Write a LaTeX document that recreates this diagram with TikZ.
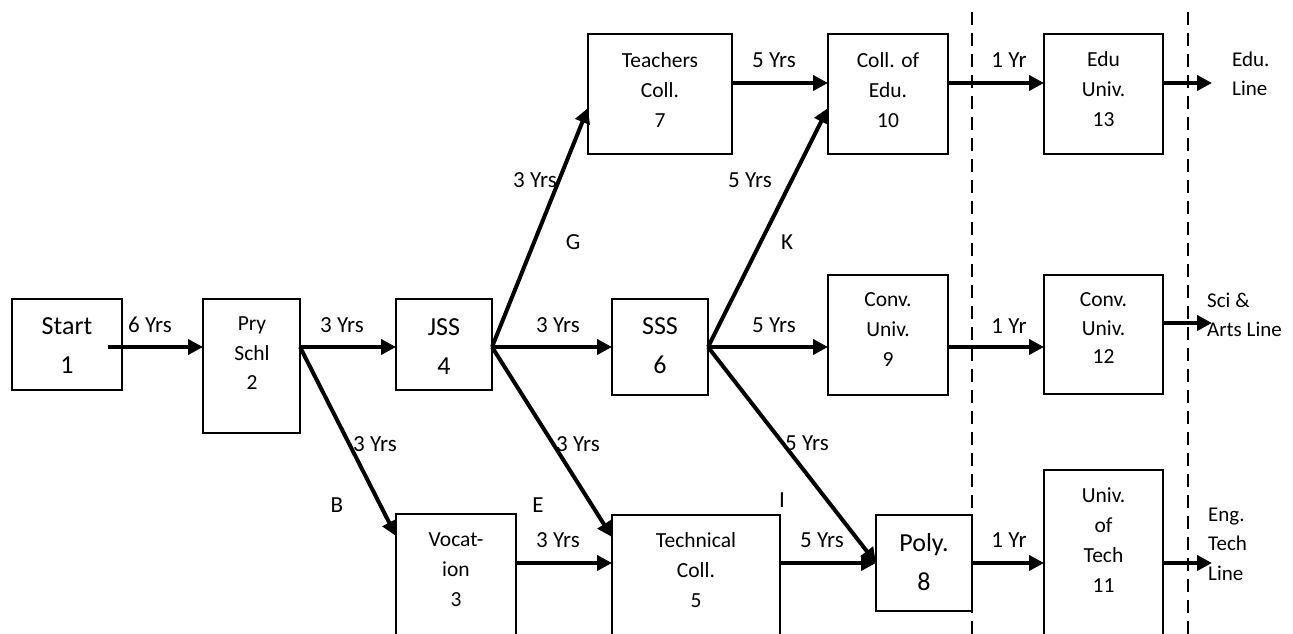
\documentclass[tikz,border=0pt]{standalone}
\usepackage{fontspec}
\setmainfont{Carlito}
\usetikzlibrary{arrows.meta,calc}
\begin{document}
\begin{tikzpicture}[x=1pt,y=-1pt,
  box/.style={draw,line width=2pt,inner sep=0pt,outer sep=0pt},
  sm/.style={font=\fontsize{21.5}{30}\selectfont,align=center,inner sep=0pt},
  lbl/.style={font=\fontsize{23}{30}\selectfont,align=center,inner sep=0pt},
  bg/.style={font=\fontsize{26}{39}\selectfont,align=center,inner sep=0pt},
  side/.style={font=\fontsize{21}{29.5}\selectfont,align=left,inner sep=0pt,anchor=west},
  arr/.style={line width=4pt,-{Triangle[length=15pt,width=15pt]}},
  divider/.style={line width=2.5pt,dash pattern=on 13pt off 8pt}]
\clip (0,0) rectangle (1293,634);
\fill[white] (0,0) rectangle (1293,634);
% helper coordinates
\coordinate (y83) at (0,83);
\coordinate (y108) at (0,108);
\coordinate (y323) at (0,323);
\coordinate (y347) at (0,347);
\coordinate (y536) at (0,536);
\coordinate (y537) at (0,537);
\coordinate (y563) at (0,563);
% boxes
\node[box,minimum width=110pt,minimum height=91pt] (start) at (67,344.5) {};
\node[box,minimum width=97pt,minimum height=134pt] (pry) at (251.5,366) {};
\node[box,minimum width=96pt,minimum height=91pt] (jss) at (444,344.5) {};
\node[box,minimum width=96pt,minimum height=96pt] (sss) at (660,347) {};
\node[box,minimum width=144pt,minimum height=120pt] (teach) at (660,94) {};
\node[box,minimum width=120pt,minimum height=120pt] (colledu) at (888,94) {};
\node[box,minimum width=120pt,minimum height=120pt] (conv9) at (888,335) {};
\node[box,minimum width=119pt,minimum height=120pt] (edu13) at (1103.5,94) {};
\node[box,minimum width=119pt,minimum height=119pt] (conv12) at (1103.5,334.5) {};
\node[box,minimum width=120pt,minimum height=166pt] (voc) at (456,597) {};
\node[box,minimum width=168pt,minimum height=165pt] (tech) at (696,597.5) {};
\node[box,minimum width=96pt,minimum height=96pt] (poly) at (924,563) {};
\node[box,minimum width=119pt,minimum height=210pt] (univtech) at (1103.5,575) {};
% box texts
\node[bg] (startT) at (67,346) {Start\\1};
\node[sm,font=\fontsize{21.5}{29.5}\selectfont] (pryT) at (252,353.5) {Pry\\Schl\\2};
\node[bg] (jssT) at (444,346.5) {JSS\\4};
\node[bg] (sssT) at (660,346) {SSS\\6};
\node[sm] (teachT) at (660,90) {Teachers\\Coll.\\7};
\node[sm] (colleduT) at (888,90) {Coll. of\\Edu.\\10};
\node[sm] (edu13T) at (1103.5,89.5) {Edu\\Univ.\\13};
\node[sm] (conv9T) at (888,330) {Conv.\\Univ.\\9};
\node[sm,font=\fontsize{21.5}{28.5}\selectfont] (conv12T) at (1103.5,328.5) {Conv.\\Univ.\\12};
\node[sm] (vocT) at (456,570) {Vocat-\\ion\\3};
\node[sm] (techT) at (696,570) {Technical\\Coll.\\5};
\node[bg] (polyT) at (924,562) {Poly.\\8};
\node[sm] (univtechT) at (1103.5,540) {Univ.\\of\\Tech\\11};
% dividers
\coordinate (d1a) at (972,12);
\coordinate (d1b) at (972,640);
\coordinate (d2a) at (1188,12);
\coordinate (d2b) at (1188,640);
\draw[divider] (d1a) -- (d1b);
\draw[divider] (d2a) -- (d2b);
% free ends
\coordinate (eduEnd) at (1212,83);
\coordinate (sciEnd) at (1212,323);
\coordinate (engEnd) at (1212,563);
% horizontal arrows
\draw[arr] ($(start.east |- y347)+(-14,0)$) -- (pry.west |- y347);
\draw[arr] (pry.east |- y347) -- (jss.west |- y347);
\draw[arr] (jss.east |- y347) -- (sss.west |- y347);
\draw[arr] (sss.east |- y347) -- (conv9.west |- y347);
\draw[arr] (conv9.east |- y347) -- (conv12.west |- y347);
\draw[arr] (conv12.east |- y323) -- (sciEnd);
\draw[arr] (teach.east |- y83) -- (colledu.west |- y83);
\draw[arr] (colledu.east |- y83) -- (edu13.west |- y83);
\draw[arr] (edu13.east |- y83) -- (eduEnd);
\draw[arr] (voc.east |- y563) -- (tech.west |- y563);
\draw[arr] (tech.east |- y563) -- (poly.west |- y563);
\draw[arr] (poly.east |- y563) -- (univtech.west |- y563);
\draw[arr] (univtech.east |- y563) -- (engEnd);
% diagonal arrows
\draw[arr] (pry.east |- y347) -- (voc.west |- y536);
\draw[arr] (jss.east |- y347) -- (tech.west |- y537);
\draw[arr] (sss.east |- y347) -- (poly.west |- y563);
\draw[arr] (jss.east |- y347) -- (teach.west |- y108);
\draw[arr] (sss.east |- y347) -- (colledu.west |- y108);
% edge labels
\node[lbl] (l1) at (150,325) {6 Yrs};
\node[lbl] (l2) at (342,325) {3 Yrs};
\node[lbl] (l3) at (558,325) {3 Yrs};
\node[lbl] (l4) at (774,325) {5 Yrs};
\node[lbl] (l5) at (1009,326) {1 Yr};
\node[lbl] (l6) at (774,60) {5 Yrs};
\node[lbl] (l7) at (1009,60) {1 Yr};
\node[lbl] (l8) at (535,180) {3 Yrs};
\node[lbl] (lG) at (573,242) {G};
\node[lbl] (l9) at (750,180) {5 Yrs};
\node[lbl] (lK) at (787,242) {K};
\node[lbl] (l10) at (375,444) {3 Yrs};
\node[lbl] (lB) at (337,505) {B};
\node[lbl] (l11) at (578,444) {3 Yrs};
\node[lbl] (lE) at (538,505) {E};
\node[lbl] (l12) at (807,443) {5 Yrs};
\node[lbl] (lI) at (782,500) {I};
\node[lbl] (l13) at (558,540) {3 Yrs};
\node[lbl] (l14) at (822,540) {5 Yrs};
\node[lbl] (l15) at (1009,540) {1 Yr};
% side labels
\node[side] (eduL) at (1232,74) {Edu.\\Line};
\node[side] (sciL) at (1207,315) {Sci \&\\Arts Line};
\node[side] (engL) at (1208,544) {Eng.\\Tech\\Line};
\end{tikzpicture}
\end{document}
